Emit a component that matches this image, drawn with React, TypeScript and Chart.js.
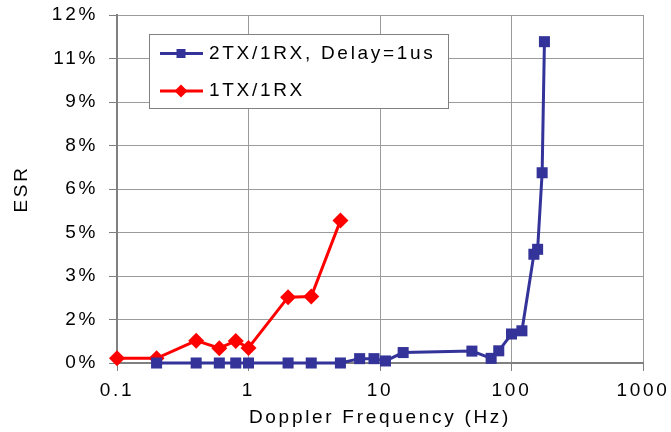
import React, { useEffect, useRef } from 'react';
import { Chart, registerables } from 'chart.js';

Chart.register(...registerables);

// Series data (Doppler frequency in Hz, ESR in %)
const freq2tx = [0.2, 0.4, 0.6, 0.8, 1, 2, 3, 5, 7, 9, 11, 15, 50, 70, 80, 100, 120, 148, 158, 171, 178];
const esr2tx = [0, 0, 0, 0, 0, 0, 0, 0, 0.15, 0.15, 0.07, 0.36, 0.41, 0.16, 0.42, 1.0, 1.11, 3.75, 3.92, 6.56, 11.08];
const freq1tx = [0.1, 0.2, 0.4, 0.6, 0.8, 1, 2, 3, 5];
const esr1tx = [0.16, 0.16, 0.77, 0.51, 0.76, 0.52, 2.27, 2.29, 4.91];

const seriesNames = ['2TX/1RX, Delay=1us', '1TX/1RX'];
const xTickValues = [0.1, 1, 10, 100, 1000];
const xTickLabels = ['0.1', '1', '10', '100', '1000'];
const yTickLabels = ['0%', '2%', '3%', '5%', '6%', '8%', '9%', '11%', '12%'];

const FONT = '"Liberation Sans", Arial, sans-serif';
const SPACING = '2.7px';

const spacingPlugin = {
  id: 'spacing',
  beforeUpdate(chart: any) { chart.ctx.letterSpacing = SPACING; },
  beforeLayout(chart: any) { chart.ctx.letterSpacing = SPACING; },
  beforeDraw(chart: any) { chart.ctx.letterSpacing = SPACING; },
};

const boxLegendPlugin = {
  id: 'boxLegend',
  afterDraw(chart: any) {
    const { ctx, chartArea } = chart;
    const x = Math.round(chartArea.left + 32);
    const y = Math.round(chartArea.top + 19);
    const w = 299;
    const h = 74;
    ctx.save();
    ctx.letterSpacing = SPACING;
    ctx.fillStyle = '#ffffff';
    ctx.fillRect(x, y, w, h);
    ctx.strokeStyle = '#808080';
    ctx.lineWidth = 1;
    ctx.strokeRect(x + 0.5, y + 0.5, w, h);
    chart.data.datasets.forEach((ds: any, i: number) => {
      const cy = y + 19.5 + i * 37.5;
      ctx.strokeStyle = ds.borderColor;
      ctx.lineWidth = 3;
      ctx.beginPath();
      ctx.moveTo(x + 11, cy);
      ctx.lineTo(x + 54, cy);
      ctx.stroke();
      const cx = x + 32;
      ctx.fillStyle = ds.pointBackgroundColor;
      ctx.beginPath();
      if (ds.pointStyle === 'rect') {
        ctx.rect(cx - 4.5, cy - 4.5, 9, 9);
      } else {
        const r = 6.5;
        ctx.moveTo(cx - r, cy);
        ctx.lineTo(cx, cy - r);
        ctx.lineTo(cx + r, cy);
        ctx.lineTo(cx, cy + r);
        ctx.closePath();
      }
      ctx.fill();
      ctx.fillStyle = '#000000';
      ctx.font = `19px ${FONT}`;
      ctx.textBaseline = 'middle';
      ctx.textAlign = 'left';
      ctx.fillText(ds.label, x + 60, cy);
    });
    ctx.restore();
  },
};

export default function App() {
  const ref = useRef<HTMLCanvasElement | null>(null);

  useEffect(() => {
    if (!ref.current) return;
    const blue = '#333399';
    const red = '#ff0000';
    const chart = new Chart(ref.current, {
      type: 'scatter',
      data: {
        datasets: [
          {
            label: seriesNames[0],
            data: freq2tx.map((f, i) => ({ x: f, y: esr2tx[i] })),
            showLine: true,
            borderColor: blue,
            backgroundColor: blue,
            pointBackgroundColor: blue,
            pointBorderColor: blue,
            borderWidth: 3,
            pointStyle: 'rect',
            pointRadius: 7.8,
            pointBorderWidth: 0,
            clip: false,
          } as any,
          {
            label: seriesNames[1],
            data: freq1tx.map((f, i) => ({ x: f, y: esr1tx[i] })),
            showLine: true,
            borderColor: red,
            backgroundColor: red,
            pointBackgroundColor: red,
            pointBorderColor: red,
            borderWidth: 3,
            pointStyle: 'rectRot',
            pointRadius: 8,
            pointBorderWidth: 0,
            clip: false,
          } as any,
        ],
      },
      options: {
        animation: false,
        responsive: false,
        layout: { padding: { top: 15, right: 28, left: 0, bottom: 0 } },
        plugins: {
          legend: { display: false },
          tooltip: { enabled: false },
        },
        scales: {
          x: {
            type: 'logarithmic',
            min: 0.1,
            max: 1000,
            afterBuildTicks: (s: any) => {
              s.ticks = xTickValues.map((value) => ({ value }));
            },
            afterFit: (s: any) => {
              s.height = 69;
              s.paddingLeft = 0;
              s.paddingRight = 0;
            },
            ticks: {
              autoSkip: false,
              maxRotation: 0,
              padding: 8,
              color: '#000000',
              font: { family: FONT, size: 19 },
              callback: (_v: any, i: number) => xTickLabels[i],
            },
            grid: { color: '#9b9b9b', lineWidth: 1, tickLength: 8, tickColor: '#808080' },
            border: { color: '#808080', width: 2 },
            title: {
              display: true,
              text: 'Doppler Frequency (Hz)',
              color: '#000000',
              font: { family: FONT, size: 19 },
              padding: { top: 0, bottom: 3 },
            },
          } as any,
          y: {
            type: 'linear',
            min: 0,
            max: 12,
            afterFit: (s: any) => {
              s.width = 117;
              s.paddingTop = 0;
              s.paddingBottom = 0;
            },
            ticks: {
              stepSize: 1.5,
              padding: 11,
              color: '#000000',
              font: { family: FONT, size: 19 },
              callback: (_v: any, i: number) => yTickLabels[i],
            },
            grid: { color: '#9b9b9b', lineWidth: 1, tickLength: 8, tickColor: '#808080' },
            border: { color: '#808080', width: 2 },
            title: {
              display: true,
              text: 'ESR',
              color: '#000000',
              font: { family: FONT, size: 19 },
              padding: { top: 10, bottom: 0 },
            },
          } as any,
        },
      },
      plugins: [spacingPlugin, boxLegendPlugin],
    });
    return () => chart.destroy();
  }, []);

  return (
    <div style={{ position: 'absolute', left: 0, top: 0, width: 671, height: 432, background: '#ffffff' }}>
      <canvas ref={ref} width={671} height={432} style={{ display: 'block', width: 671, height: 432 }} />
    </div>
  );
}
